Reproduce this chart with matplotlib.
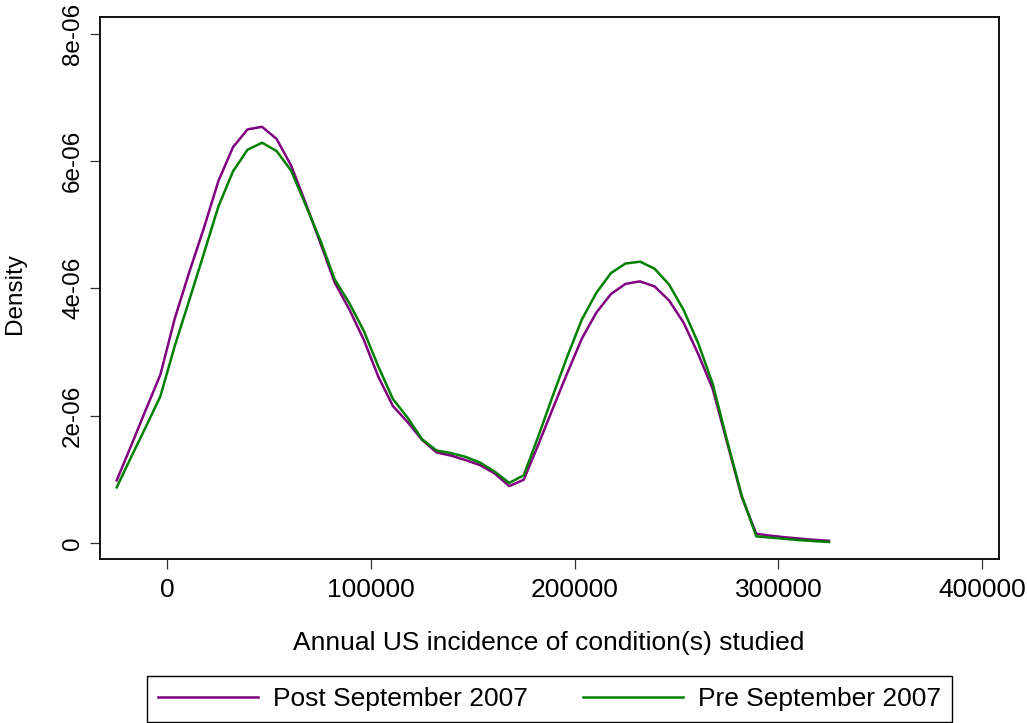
import matplotlib
matplotlib.use("Agg")
import matplotlib.pyplot as plt

plt.rcParams['font.family'] = ['Liberation Sans', 'DejaVu Sans']

# kdensity evaluation grid (50 points)
grid_x = [-24840, -17704, -10568, -3432, 3704, 10840, 17976, 25112, 32248, 39384,
          46520, 53656, 60792, 67928, 75064, 82200, 89336, 96472, 103608, 110744,
          117880, 125016, 132152, 139288, 146424, 153560, 160696, 167832, 174968, 182104,
          189240, 196376, 203512, 210648, 217784, 224920, 232056, 239192, 246328, 253464,
          260600, 267736, 274872, 282008, 289144, 296280, 303416, 310552, 317688, 324824]

# density values in units of 1e-06
post_sep_2007 = [0.98, 1.53, 2.09, 2.64, 3.53, 4.26, 4.95, 5.69, 6.22, 6.50,
                 6.54, 6.35, 5.93, 5.34, 4.72, 4.09, 3.67, 3.19, 2.61, 2.15,
                 1.90, 1.62, 1.42, 1.37, 1.30, 1.22, 1.09, 0.89, 0.99, 1.54,
                 2.11, 2.67, 3.21, 3.62, 3.91, 4.07, 4.11, 4.03, 3.81, 3.46,
                 2.97, 2.42, 1.57, 0.72, 0.14, 0.11, 0.085, 0.065, 0.045, 0.03]
pre_sep_2007 = [0.87, 1.35, 1.82, 2.30, 3.10, 3.82, 4.55, 5.29, 5.84, 6.18,
                6.29, 6.16, 5.85, 5.31, 4.76, 4.14, 3.77, 3.33, 2.77, 2.26,
                1.97, 1.63, 1.45, 1.41, 1.35, 1.26, 1.12, 0.94, 1.06, 1.67,
                2.31, 2.93, 3.51, 3.93, 4.24, 4.39, 4.42, 4.31, 4.06, 3.66,
                3.14, 2.50, 1.60, 0.74, 0.10, 0.08, 0.06, 0.04, 0.025, 0.012]

x_ticks = [0, 100000, 200000, 300000, 400000]
x_tick_labels = ["0", "100000", "200000", "300000", "400000"]
y_ticks = [0, 2e-06, 4e-06, 6e-06, 8e-06]
y_tick_labels = ["0", "2e-06", "4e-06", "6e-06", "8e-06"]

FS_H = 19     # horizontal text
FS_V = 17.5   # rotated text

fig = plt.figure(figsize=(10.27, 7.23), dpi=100)
ax = fig.add_axes([100 / 1027, 1 - 559 / 723, 899 / 1027, 542 / 723])

ax.plot(grid_x, [v * 1e-6 for v in post_sep_2007], color="#800080", linewidth=1.8,
        label="Post September 2007")
ax.plot(grid_x, [v * 1e-6 for v in pre_sep_2007], color="#008000", linewidth=1.8,
        label="Pre September 2007")

ax.set_xlim(-33040, 408300)
ax.set_ylim(-0.256e-6, 8.267e-6)

ax.set_xticks(x_ticks)
ax.set_xticklabels(x_tick_labels, fontsize=FS_H)
ax.set_yticks(y_ticks)
ax.set_yticklabels(y_tick_labels, fontsize=FS_V, rotation=90, va="center")
ax.tick_params(direction="out", length=7.5, width=0.9, color="#333333")
ax.tick_params(axis="x", pad=6)
ax.tick_params(axis="y", pad=4)

for s in ax.spines.values():
    s.set_linewidth(1.3)
    s.set_color("black")

ax.set_xlabel("Annual US incidence of condition(s) studied", fontsize=FS_H)
ax.xaxis.set_label_coords(449 / 899, -(631 - 559) / 542)
ax.set_ylabel("Density", fontsize=FS_V)
ax.yaxis.set_label_coords(-(100 - 26) / 899, 0.49)

leg = fig.legend(loc="lower center", ncol=2, fontsize=FS_H,
                 bbox_to_anchor=(549.5 / 1027, 1 / 723),
                 borderaxespad=0, handlelength=3.8, handletextpad=0.55,
                 columnspacing=2.1, borderpad=0.42,
                 fancybox=False, edgecolor="black", framealpha=1)
leg.get_frame().set_linewidth(1.0)

fig.savefig("out.png", dpi=100)
